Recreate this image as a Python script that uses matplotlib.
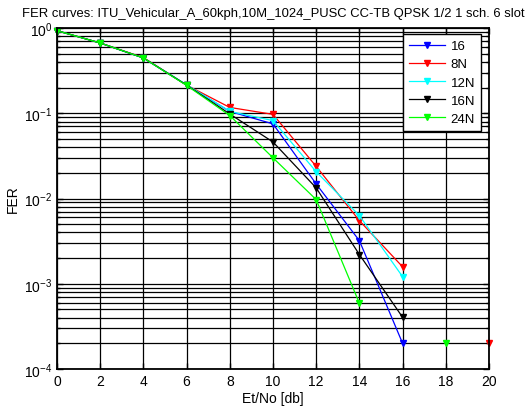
import numpy as np
import matplotlib
matplotlib.use("Agg")
import matplotlib.pyplot as plt
from matplotlib.ticker import LogLocator, NullFormatter

plt.rcParams['font.family'] = ['Liberation Sans', 'DejaVu Sans']

x = [0, 2, 4, 6, 8, 10, 12, 14, 16, 18, 20]
nan = np.nan
fer_16  = [0.93, 0.667, 0.445, 0.214, 0.105, 0.075, 0.0148, 0.0032, 0.0002, nan, nan]
fer_8N  = [0.93, 0.667, 0.45, 0.214, 0.117, 0.097, 0.0238, 0.0055, 0.00158, nan, 0.0002]
fer_12N = [0.93, 0.667, 0.445, 0.216, 0.105, 0.082, 0.0206, 0.0063, 0.00121, nan, nan]
fer_16N = [0.93, 0.667, 0.445, 0.214, 0.098, 0.046, 0.0133, 0.0022, 0.000404, nan, nan]
fer_24N = [0.93, 0.667, 0.445, 0.212, 0.094, 0.030, 0.0097, 0.00059, nan, 0.0002, nan]

series = [("16", fer_16, "#0000ff"),
          ("8N", fer_8N, "#ff0000"),
          ("12N", fer_12N, "#00ffff"),
          ("16N", fer_16N, "#000000"),
          ("24N", fer_24N, "#00ff00")]

title = "FER curves: ITU_Vehicular_A_60kph,10M_1024_PUSC CC-TB QPSK 1/2 1 sch. 6 slot"
xticks = [0, 2, 4, 6, 8, 10, 12, 14, 16, 18, 20]

fig = plt.figure(figsize=(5.26, 4.10), dpi=100)
ax = fig.add_axes([57/526, 40/410, 432/526, 341/410])

for name, vals, col in series:
    ax.semilogy(x, vals, color=col, lw=0.9, marker='v', markersize=4.5,
                markeredgecolor=col, markerfacecolor=col, label=name, clip_on=False)

ax.set_xlim(0, 20)
ax.set_ylim(1e-4, 1)
ax.set_xticks(xticks)
ax.yaxis.set_major_locator(LogLocator(base=10, numticks=10))
ax.yaxis.set_minor_locator(LogLocator(base=10, subs=np.arange(2, 10), numticks=20))
ax.yaxis.set_minor_formatter(NullFormatter())

ax.grid(True, which='major', color='black', lw=0.9, ls='-')
ax.grid(True, which='minor', axis='y', color='black', lw=0.9, ls='-')
ax.set_axisbelow(True)

ax.tick_params(which='both', direction='in', top=True, right=True, labelsize=10)
ax.tick_params(which='major', length=4, width=1)
ax.tick_params(which='minor', length=2.5, width=1)
for sp in ax.spines.values():
    sp.set_linewidth(1.3)

ax.set_title(title, fontsize=9.4, pad=9)
ax.set_xlabel("Et/No [db]", fontsize=10, labelpad=2)
ax.set_ylabel("FER", fontsize=10, labelpad=3)

leg = ax.legend(loc='upper right', bbox_to_anchor=(0.982, 0.982), fontsize=9.5,
                frameon=True, fancybox=False, framealpha=1, edgecolor='black',
                handlelength=2.7, borderpad=0.45, labelspacing=0.45, handletextpad=0.45,
                borderaxespad=0)
leg.get_frame().set_linewidth(1.0)

fig.savefig("out.png", dpi=100)
